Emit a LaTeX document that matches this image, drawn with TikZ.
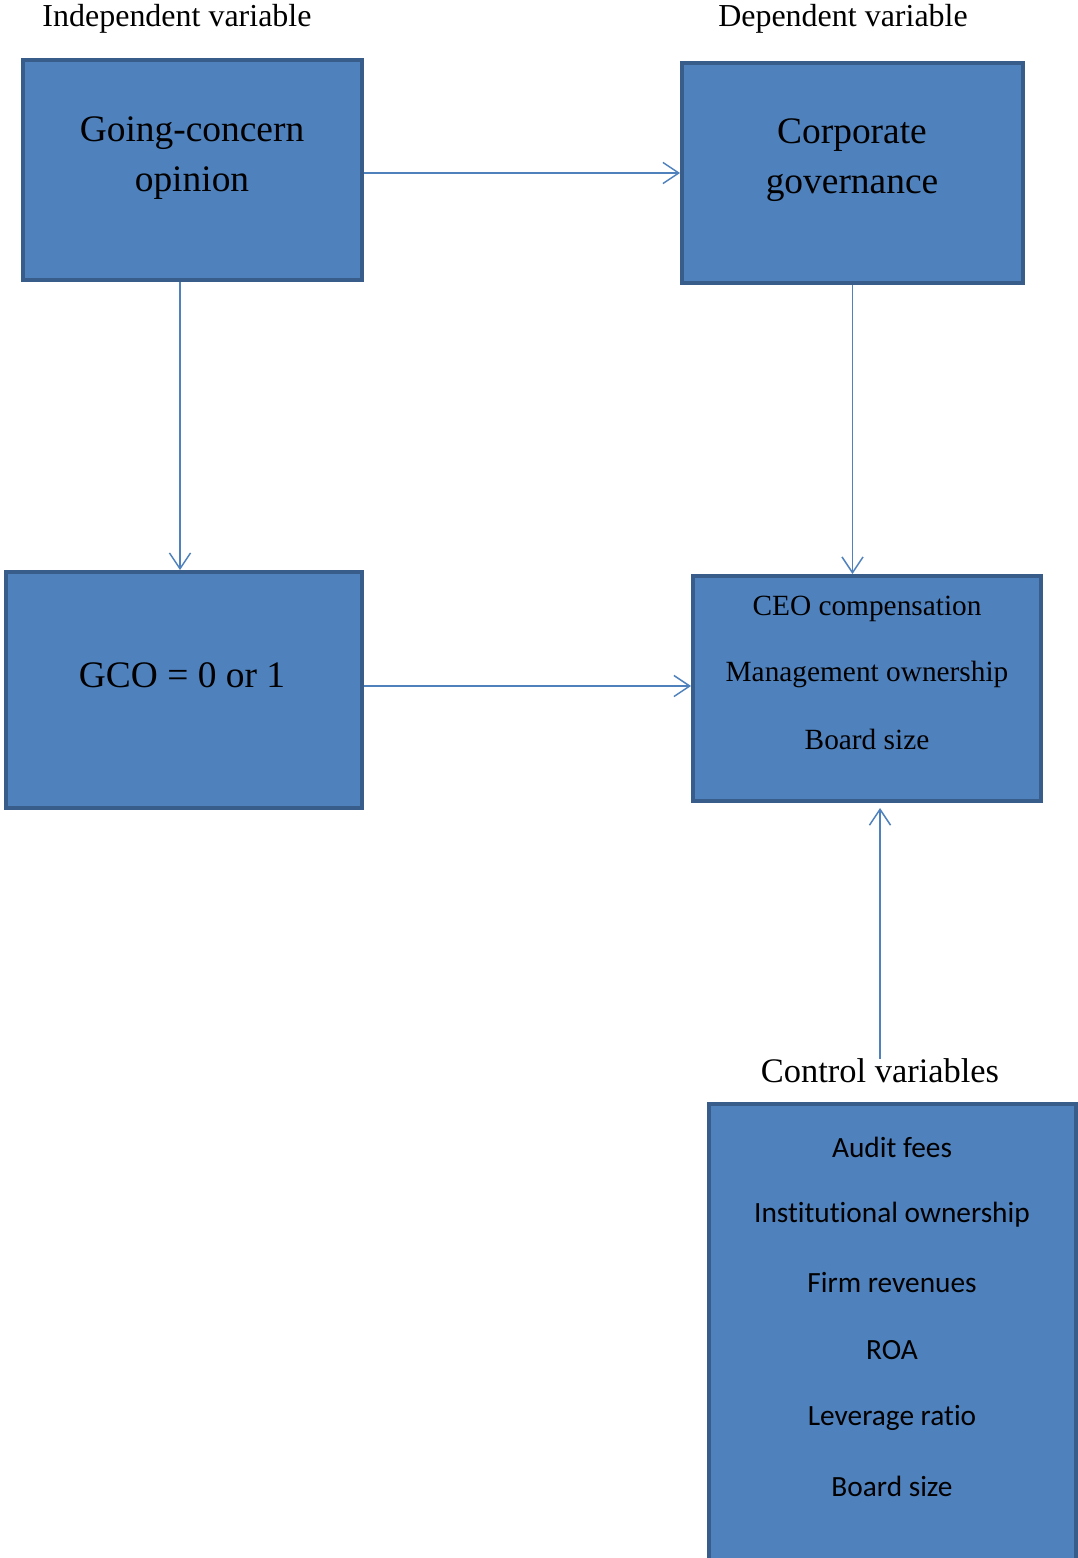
\documentclass[tikz,border=0pt]{standalone}
\usepackage{fontspec}
\setmainfont{Liberation Serif}
\newfontfamily\calibrifont[Ligatures=NoCommon]{Carlito}
\usetikzlibrary{arrows.meta}
\definecolor{boxfill}{HTML}{4F81BD}
\definecolor{boxline}{HTML}{385D8A}
\tikzset{
  varbox/.style={draw=boxline, fill=boxfill, line width=2.2pt, rectangle, inner sep=0pt},
  link/.style={draw=boxfill, line width=0.85pt, -{Straight Barb[length=9pt,width=12pt,line width=0.85pt]}},
  bigtext/.style={font=\fontsize{21.3}{28.4}\selectfont, align=center, inner sep=0pt},
  midtext/.style={font=\fontsize{16.7}{22}\selectfont, inner sep=0pt},
  listtext/.style={font=\calibrifont\fontsize{16.7}{20}\selectfont, inner sep=0pt},
  headtext/.style={font=\fontsize{18.2}{20}\selectfont, inner sep=0pt}
}
\begin{document}
\begin{tikzpicture}[x=0.02cm, y=-0.02cm]
    \useasboundingbox (0,0) rectangle (1078,1558);
    % headings
    \node[headtext] (indep) at (177,19) {Independent variable};
    \node[headtext] (dep) at (843,19) {Dependent variable};
    % boxes
    \node[varbox, minimum width=339*0.02cm, minimum height=220*0.02cm] (gco) at (192.5,170) {};
    \node[varbox, minimum width=341*0.02cm, minimum height=220*0.02cm] (cg) at (852.5,173) {};
    \node[varbox, minimum width=356*0.02cm, minimum height=236*0.02cm] (gcoval) at (184,690) {};
    \node[varbox, minimum width=348*0.02cm, minimum height=225*0.02cm] (ceo) at (867,688.5) {};
    \node[varbox, minimum width=367*0.02cm, minimum height=460*0.02cm] (ctrl) at (892.5,1334) {};
    % box texts
    \node[bigtext] (gcotxt) at (192,158) {Going-concern\\opinion};
    \node[bigtext] (cgtxt) at (852,160) {Corporate\\governance};
    \node[bigtext] (gcovaltxt) at (182,675) {GCO = 0 or 1};
    \node[midtext] (ceo1) at (867,609) {CEO compensation};
    \node[midtext] (ceo2) at (867,674) {Management ownership};
    \node[midtext] (ceo3) at (867,739) {Board size};
    \node[font=\fontsize{19.6}{22}\selectfont, inner sep=0pt] (ctrlhead) at (880,1071) {Control variables};
    \foreach \lbl/\yy [count=\i] in {Audit fees/1147, Institutional ownership/1215,
        Firm revenues/1282, ROA/1350, Leverage ratio/1418, Board size/1486}
      \node[listtext] (item\i) at (892,\yy) {\lbl};
    % connectors
    \coordinate (ceobelow) at (880,808);
    \draw[link] (gco.east |- 0,173) -- (cg.west |- 0,173);
    \draw[link] (gco.south -| 180,0) -- (gcoval.north -| 180,0);
    \draw[link] (cg.south) -- (ceo.north -| cg.south);
    \draw[link] (gcoval.east |- 0,686) -- (ceo.west |- 0,686);
    \draw[link] (ctrlhead.north -| ceobelow) -- (ceobelow);
\end{tikzpicture}
\end{document}
